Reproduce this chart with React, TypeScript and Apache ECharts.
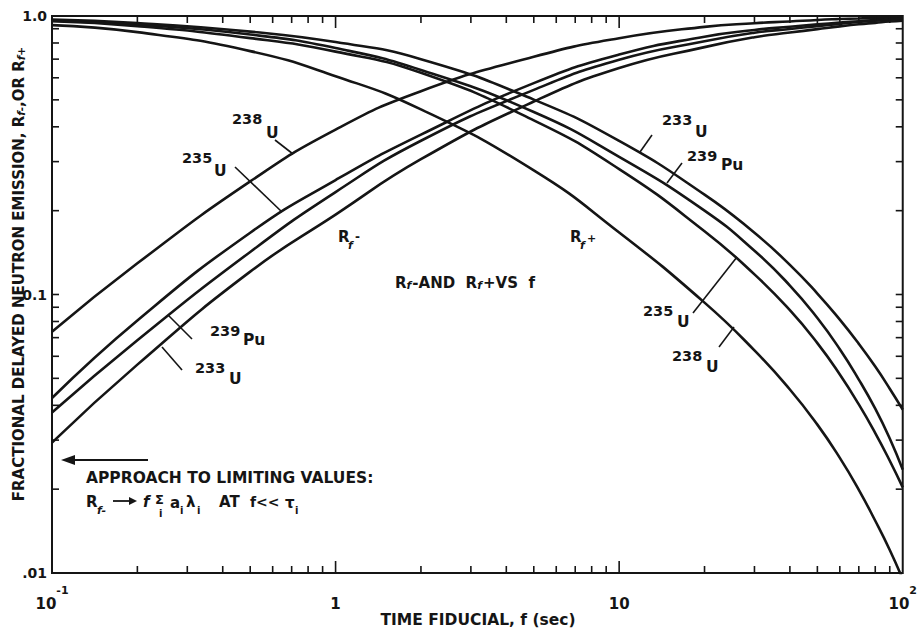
import React, { useEffect, useRef } from "react";
import * as echarts from "echarts";

// ---- data (log-log) ----
const fiducialTimes = [0.1, 0.2, 0.5, 1, 2, 5, 10, 20, 30, 40, 50, 60, 70, 80, 90, 100];

// R_f- (rising)
const rMinusU238 = [0.0735, 0.1294, 0.2547, 0.391, 0.537, 0.714, 0.832, 0.914, 0.942, 0.956, 0.968, 0.975, 0.98, 0.985, 0.988, 0.991];
const rMinusU235 = [0.0425, 0.0807, 0.1667, 0.2576, 0.375, 0.574, 0.727, 0.843, 0.891, 0.915, 0.933, 0.947, 0.958, 0.967, 0.974, 0.98];
const rMinusPu239 = [0.0377, 0.0685, 0.1422, 0.2333, 0.3565, 0.543, 0.697, 0.812, 0.871, 0.898, 0.92, 0.937, 0.951, 0.961, 0.97, 0.977];
const rMinusU233 = [0.0294, 0.056, 0.1208, 0.1936, 0.306, 0.493, 0.65, 0.773, 0.839, 0.872, 0.897, 0.918, 0.934, 0.945, 0.955, 0.962];

// R_f+ (falling)
const rPlusU233 = [0.971, 0.944, 0.879, 0.806, 0.7, 0.501, 0.356, 0.2284, 0.1665, 0.1278, 0.1008, 0.0812, 0.0665, 0.0551, 0.0459, 0.0386];
const rPlusPu239 = [0.962, 0.931, 0.858, 0.767, 0.64, 0.452, 0.312, 0.2001, 0.1436, 0.1077, 0.0823, 0.0636, 0.0495, 0.0389, 0.0304, 0.0235];
const rPlusU235 = [0.957, 0.919, 0.833, 0.745, 0.625, 0.422, 0.282, 0.1688, 0.1181, 0.0878, 0.0669, 0.0516, 0.0403, 0.0318, 0.0253, 0.0203];
const rPlusU238 = [0.927, 0.875, 0.748, 0.608, 0.462, 0.279, 0.167, 0.0935, 0.063, 0.0456, 0.0341, 0.0259, 0.0199, 0.0154, 0.0121, 0.0095];

// tick values
const xMinorTicks = [0.2, 0.3, 0.4, 0.5, 0.6, 0.7, 0.8, 0.9, 1, 2, 3, 4, 5, 6, 7, 8, 9, 10, 20, 30, 40, 50, 60, 70, 80, 90];
const xMajorTicks = [1, 10];
const yMinorTicks = [0.02, 0.03, 0.04, 0.05, 0.06, 0.07, 0.08, 0.09, 0.1, 0.2, 0.3, 0.4, 0.5, 0.6, 0.7, 0.8, 0.9];
const yTickLabels: Record<string, string> = { "-2": ".01", "-1": "0.1", "0": "1.0" };
const xTickLabels: Record<string, string> = { "-1": "{b|10}{s|-1}", "0": "{b|1}", "1": "{b|10}", "2": "{b|10}{s|2}" };

const FONT = "'DejaVu Sans', 'Liberation Sans', sans-serif";
const INK = "#151515";

function App() {
  const ref = useRef<HTMLDivElement | null>(null);

  useEffect(() => {
    if (!ref.current) return;
    const chart = echarts.init(ref.current, undefined, { renderer: "svg" });

    const pair = (ys: number[]) => fiducialTimes.map((x, i) => [x, ys[i]]);
    const curve = (name: string, ys: number[]) => ({
      name,
      type: "line",
      data: pair(ys),
      smooth: 0.5,
      showSymbol: false,
      symbol: "none",
      clip: true,
      lineStyle: { color: INK, width: 2.6 },
      z: 3,
    });

    const t = (x: number, y: number, text: string, size = 15, extra: any = {}) => ({
      type: "text",
      x,
      y,
      silent: true,
      style: {
        text,
        fill: INK,
        fontSize: size,
        fontWeight: "bold",
        fontFamily: FONT,
        align: "left",
        verticalAlign: "middle",
        ...extra,
      },
    });
    const ln = (x1: number, y1: number, x2: number, y2: number, w = 1.6) => ({
      type: "line",
      silent: true,
      shape: { x1, y1, x2, y2 },
      style: { stroke: INK, lineWidth: w },
    });
    const iso = (x: number, y: number, num: string, sym: string, symX: number, symDy: number) => [
      t(x, y, num, 14.5),
      t(symX, y + symDy, sym, 15.5),
    ];

    const graphic: any[] = [
      // isotope labels, left
      ...iso(232, 119, "238", "U", 266, 14),
      ln(275, 140, 293, 154),
      ...iso(182, 158, "235", "U", 214, 13),
      ln(235, 167, 282, 212),
      ...iso(210, 331, "239", "Pu", 243, 9),
      ln(168, 315, 192, 339),
      ...iso(195, 368, "233", "U", 229, 11),
      ln(162, 347, 182, 370),
      // isotope labels, right
      ...iso(662, 120, "233", "U", 695, 12),
      ln(652, 135, 640, 152),
      ...iso(687, 156, "239", "Pu", 721, 9),
      ln(682, 163, 667, 183),
      ...iso(643, 311, "235", "U", 677, 11),
      ln(693, 313, 737, 257),
      ...iso(672, 356, "238", "U", 706, 11),
      ln(719, 347, 734, 327),
      // R_f- / R_f+ labels
      t(338, 237, "R", 15),
      t(348, 245, "f", 11, { fontStyle: "italic" }),
      t(355, 237, "-", 12),
      t(570, 237, "R", 15),
      t(580, 245, "f", 11, { fontStyle: "italic" }),
      t(587, 238, "+", 11),
      // title in plot
      {
        type: "text",
        x: 395,
        y: 283,
        silent: true,
        style: {
          text: "R{s|f}-AND  R{s|f}+VS  f",
          fill: INK,
          fontSize: 15,
          fontWeight: "bold",
          fontFamily: FONT,
          align: "left",
          verticalAlign: "middle",
          rich: {
            s: { fontSize: 11, fontWeight: "bold", fontStyle: "italic", fontFamily: FONT, fill: INK, verticalAlign: "bottom", padding: [0, 1, 0, 0] },
          },
        },
      },
      // arrow
      ln(148, 460, 70, 460, 2),
      { type: "polygon", silent: true, shape: { points: [[61, 460], [75, 455], [75, 465]] }, style: { fill: INK } },
      // limiting-value note
      t(86, 478, "APPROACH TO LIMITING VALUES:", 15.5),
      t(86, 502, "R", 15),
      t(97, 510, "f-", 11, { fontStyle: "italic" }),
      ln(113, 501, 130, 501, 1.8),
      { type: "polygon", silent: true, shape: { points: [[137, 501], [129, 497], [129, 505]] }, style: { fill: INK } },
      t(143, 502, "f", 15, { fontStyle: "italic" }),
      t(155, 499, "Σ", 13),
      t(159, 513, "i", 10),
      t(170, 503, "a", 15),
      t(180, 510, "i", 10),
      t(186, 502, "λ", 15),
      t(197, 510, "i", 10),
      t(219, 502, "AT", 15),
      t(250, 502, "f<<", 14),
      t(285, 503, "τ", 15),
      t(295, 510, "i", 10),
      // axis titles
      t(478, 620, "TIME FIDUCIAL, f (sec)", 15.5, { align: "center" }),
      {
        type: "text",
        x: 19,
        y: 274,
        rotation: Math.PI / 2,
        silent: true,
        style: {
          text: "FRACTIONAL DELAYED NEUTRON EMISSION, R{s|f-},OR R{s|f+}",
          fill: INK,
          fontSize: 15,
          fontWeight: "bold",
          fontFamily: FONT,
          align: "center",
          verticalAlign: "middle",
          rich: {
            s: { fontSize: 10.5, fontWeight: "bold", fontStyle: "italic", fontFamily: FONT, fill: INK, verticalAlign: "bottom" },
          },
        },
      },
    ];

    const option: any = {
      animation: false,
      backgroundColor: "#ffffff",
      grid: { left: 52, right: 15, top: 16, bottom: 59, show: true, borderColor: INK, borderWidth: 2, backgroundColor: "transparent" },
      xAxis: {
        type: "log",
        logBase: 10,
        min: 0.1,
        max: 100,
        axisLine: { show: false },
        axisTick: { show: false },
        splitLine: { show: false },
        axisLabel: {
          margin: 12,
          formatter: (v: number) => xTickLabels[String(Math.round(Math.log10(v)))] || "",
          rich: {
            b: { fontSize: 15, fontWeight: "bold", fontFamily: FONT, color: INK, lineHeight: 26, verticalAlign: "bottom" },
            s: { fontSize: 11, fontWeight: "bold", fontFamily: FONT, color: INK, verticalAlign: "top" },
          },
        },
      },
      yAxis: {
        type: "log",
        logBase: 10,
        min: 0.01,
        max: 1,
        axisLine: { show: false },
        axisTick: { show: false },
        splitLine: { show: false },
        axisLabel: {
          margin: 5,
          fontSize: 14,
          fontWeight: "bold",
          fontFamily: FONT,
          color: INK,
          formatter: (v: number) => yTickLabels[String(Math.round(Math.log10(v)))] || "",
        },
      },
      series: [
        curve("R_f- 238U", rMinusU238),
        curve("R_f- 235U", rMinusU235),
        curve("R_f- 239Pu", rMinusPu239),
        curve("R_f- 233U", rMinusU233),
        curve("R_f+ 233U", rPlusU233),
        curve("R_f+ 239Pu", rPlusPu239),
        curve("R_f+ 235U", rPlusU235),
        curve("R_f+ 238U", rPlusU238),
        {
          type: "custom",
          silent: true,
          z: 5,
          data: xMinorTicks.map((v) => [v, 0.1]),
          renderItem: (_p: any, api: any) => {
            const v = api.value(0);
            const b = api.coord([v, 0.01]);
            const tp = api.coord([v, 1]);
            const len = xMajorTicks.indexOf(v) >= 0 ? 12 : 7;
            return {
              type: "group",
              children: [
                { type: "line", shape: { x1: b[0], y1: b[1], x2: b[0], y2: b[1] - len }, style: { stroke: INK, lineWidth: 1.6 } },
                { type: "line", shape: { x1: tp[0], y1: tp[1], x2: tp[0], y2: tp[1] + len }, style: { stroke: INK, lineWidth: 1.6 } },
              ],
            };
          },
        },
        {
          type: "custom",
          silent: true,
          z: 5,
          data: yMinorTicks.map((v) => [1, v]),
          renderItem: (_p: any, api: any) => {
            const v = api.value(1);
            const l = api.coord([0.1, v]);
            const r = api.coord([100, v]);
            const len = 7;
            return {
              type: "group",
              children: [
                { type: "line", shape: { x1: l[0], y1: l[1], x2: l[0] + len, y2: l[1] }, style: { stroke: INK, lineWidth: 1.6 } },
                { type: "line", shape: { x1: r[0], y1: r[1], x2: r[0] - len, y2: r[1] }, style: { stroke: INK, lineWidth: 1.6 } },
              ],
            };
          },
        },
      ],
      graphic,
    };

    chart.setOption(option);
    return () => chart.dispose();
  }, []);

  return <div ref={ref} style={{ position: "fixed", left: 0, top: 0, width: 920, height: 632, background: "#fff" }} />;
}

export default App;
